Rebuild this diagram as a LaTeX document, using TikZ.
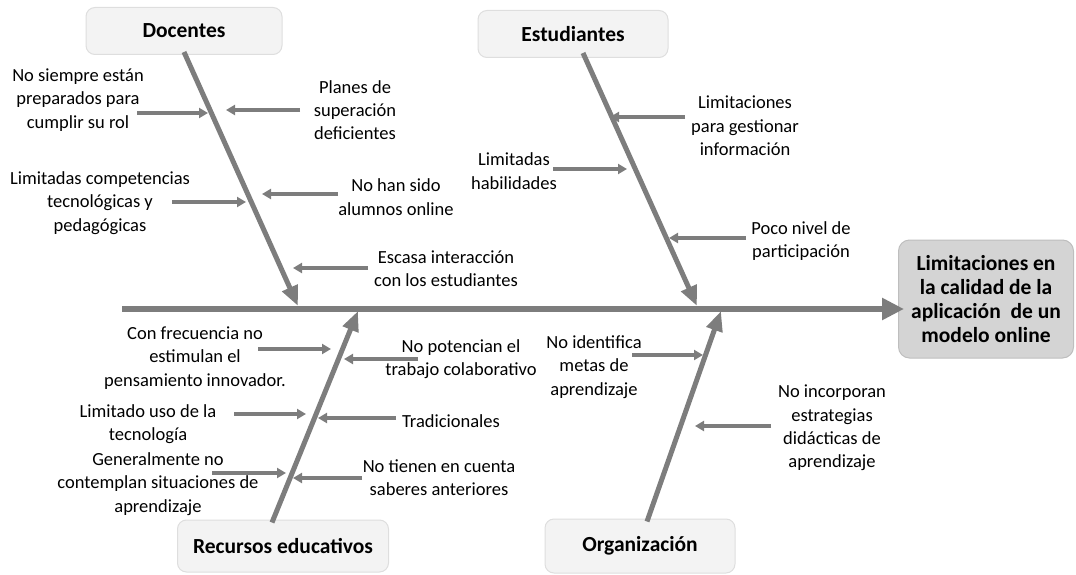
\documentclass[tikz,border=0pt]{standalone}
\usepackage{fontspec}
\setmainfont{Carlito}
\usetikzlibrary{arrows.meta,calc}
\definecolor{fishgray}{RGB}{125,125,125}
\definecolor{catfill}{RGB}{243,243,243}
\definecolor{catline}{RGB}{222,222,222}
\definecolor{efffill}{RGB}{212,212,212}
\definecolor{effline}{RGB}{190,190,190}
\begin{document}
\begin{tikzpicture}[x=1pt,y=-1pt,
  catbox/.style={draw=catline, fill=catfill, rounded corners=9pt, line width=1pt,
    minimum width=196pt, minimum height=47pt, font=\fontsize{21.5}{24}\selectfont\bfseries},
  effbox/.style={draw=effline, fill=efffill, rounded corners=11pt, line width=1pt,
    minimum width=175pt, minimum height=118pt, align=center,
    font=\fontsize{21.5}{24}\selectfont\bfseries},
  cause/.style={align=center, inner sep=0pt, font=\fontsize{18.5}{23.3}\selectfont},
  bone/.style={fishgray, line width=5pt, -{Triangle[length=20pt,width=16pt]}},
  cz/.style={fishgray, line width=3.2pt, -{Triangle[length=9pt,width=10pt]}}]
  \useasboundingbox (0,0) rectangle (1076,575);

  % Effect and spine
  \node[effbox] (eff) at (986,299) {Limitaciones en\\la calidad de la\\aplicación\ \ de un\\modelo online};
  \coordinate (tail) at (122,309);
  \draw[fishgray, line width=6pt, -{Triangle[length=22pt,width=21pt]}] (tail) -- ($(eff.west |- tail)+(6,0)$);

  % Category boxes
  \node[catbox] (doc) at (184,31) {Docentes};
  \node[catbox, minimum width=190pt] (est) at (573,34) {Estudiantes};
  \node[catbox, minimum width=211pt, minimum height=52pt] (rec) at (283,546) {Recursos educativos};
  \node[catbox, minimum width=190pt, minimum height=54pt] (org) at (640,546) {Organización};

  % Bones
  \coordinate (dtip) at (298,306);
  \coordinate (etip) at (697,306);
  \coordinate (rtip) at (358,311);
  \coordinate (otip) at (721,311);
  \draw[bone] ($(doc.south)+(0,-3)$) -- (dtip);
  \draw[bone] ($(est.south)+(10,-5)$) -- (etip);
  \draw[bone] ($(rec.north)+(-11,3)$) -- (rtip);
  \draw[bone] ($(org.north)+(7,3)$) -- (otip);

  % Docentes causes
  \node[cause] (d1) at (78,100) {No siempre están\\preparados para\\cumplir su rol};
  \node[cause] (d2) at (100,203) {Limitadas competencias\\tecnológicas y\\pedagógicas};
  \node[cause] (d3) at (355,110) {Planes de\\superación\\deficientes};
  \node[cause] (d4) at (396,197) {No han sido\\alumnos online};
  \node[cause] (d5) at (446,269) {Escasa interacción\\con los estudiantes};
  \coordinate (d1h) at (208,113);
  \coordinate (d2h) at (246,202);
  \coordinate (d3h) at (226,110);
  \coordinate (d4h) at (262,194);
  \coordinate (d5h) at (293,268);
  \draw[cz] ($(d1h)+(-71,0)$) -- (d1h);
  \draw[cz] ($(d2h)+(-74,0)$) -- (d2h);
  \draw[cz] ($(d3h)+(74,0)$) -- (d3h);
  \draw[cz] ($(d4h)+(76,0)$) -- (d4h);
  \draw[cz] ($(d5h)+(75,0)$) -- (d5h);

  % Estudiantes causes
  \node[cause] (e1) at (745,126) {Limitaciones\\para gestionar\\información};
  \node[cause] (e2) at (514,171) {Limitadas\\habilidades};
  \node[cause] (e3) at (801,241) {Poco nivel de\\participación};
  \coordinate (e1h) at (610,117);
  \coordinate (e2h) at (627,169);
  \coordinate (e3h) at (669,238);
  \draw[cz] ($(e1h)+(75,0)$) -- (e1h);
  \draw[cz] ($(e2h)+(-74,0)$) -- (e2h);
  \draw[cz] ($(e3h)+(77,0)$) -- (e3h);

  % Recursos educativos causes
  \node[cause] (r1) at (195,358) {Con frecuencia no\\estimulan el\\pensamiento innovador.};
  \node[cause] (r2) at (148,424) {Limitado uso de la\\tecnología};
  \node[cause] (r3) at (158,484) {Generalmente no\\contemplan situaciones de\\aprendizaje};
  \node[cause] (r4) at (461,359) {No potencian el\\trabajo colaborativo};
  \node[cause] (r5) at (451,421) {Tradicionales};
  \node[cause] (r6) at (439,478) {No tienen en cuenta\\saberes anteriores};
  \coordinate (r1h) at (331,349);
  \coordinate (r2h) at (306,414);
  \coordinate (r3h) at (286,473);
  \coordinate (r4h) at (344,359);
  \coordinate (r5h) at (318,418);
  \coordinate (r6h) at (293,478);
  \draw[cz] ($(r1h)+(-73,0)$) -- (r1h);
  \draw[cz] ($(r2h)+(-72,0)$) -- (r2h);
  \draw[cz] ($(r3h)+(-74,0)$) -- (r3h);
  \draw[cz] ($(r4h)+(74,0)$) -- (r4h);
  \draw[cz] ($(r5h)+(78,0)$) -- (r5h);
  \draw[cz] ($(r6h)+(69,0)$) -- (r6h);

  % Organizacion causes
  \node[cause] (o1) at (594,367) {No identifica\\metas de\\aprendizaje};
  \node[cause] (o2) at (832,428) {No incorporan\\estrategias\\didácticas de\\aprendizaje};
  \coordinate (o1h) at (703,355);
  \coordinate (o2h) at (695,426);
  \draw[cz] ($(o1h)+(-71,0)$) -- (o1h);
  \draw[cz] ($(o2h)+(76,0)$) -- (o2h);
\end{tikzpicture}
\end{document}
